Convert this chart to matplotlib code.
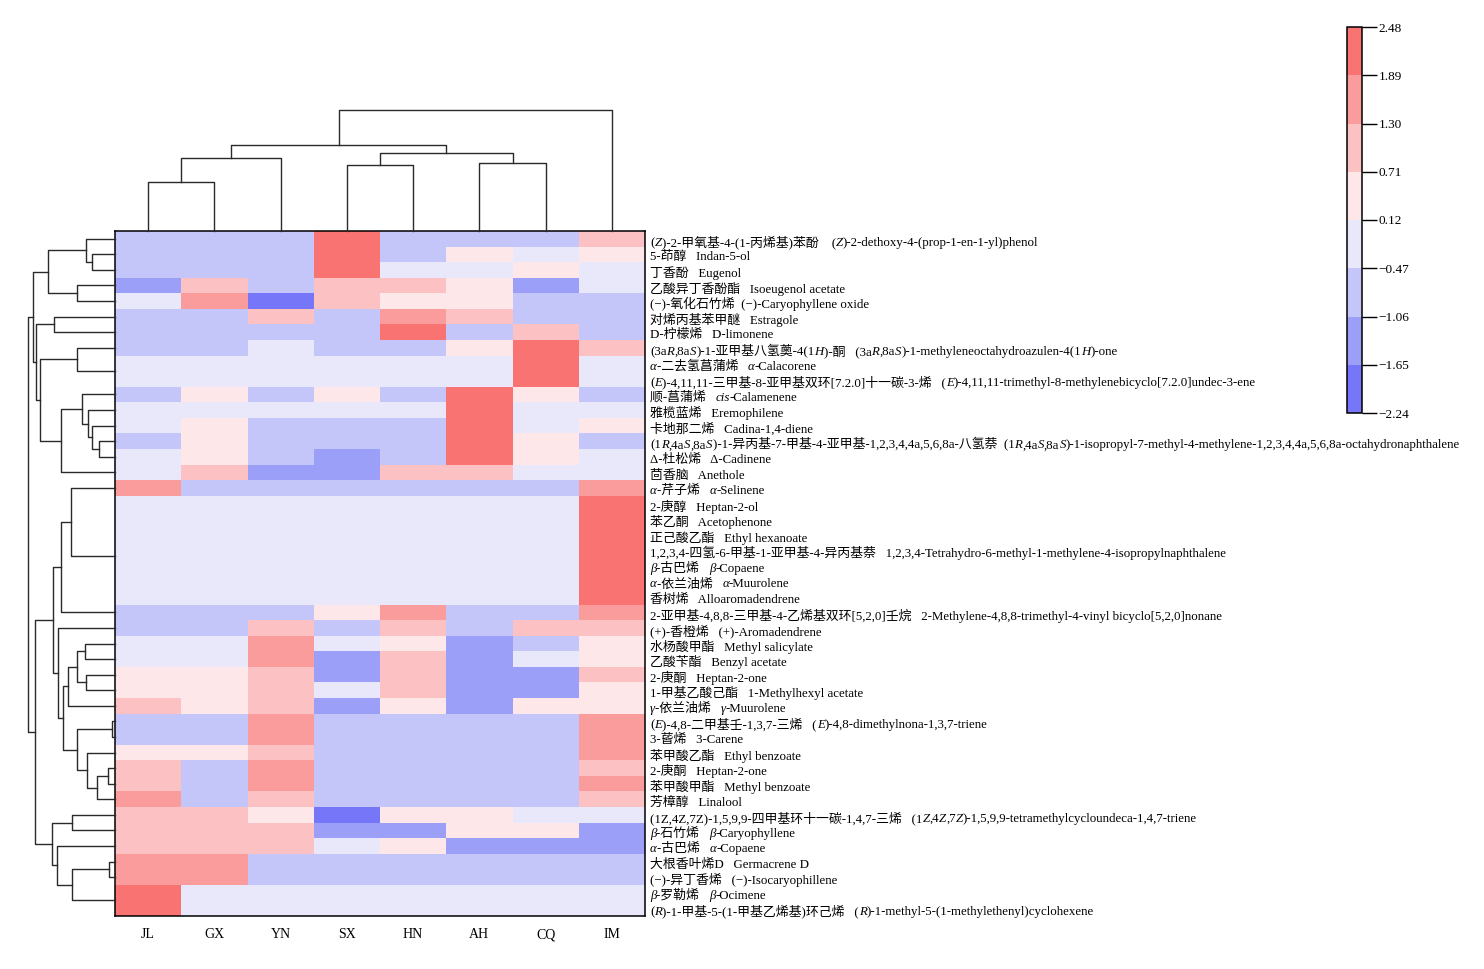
import numpy as np
import matplotlib.pyplot as plt
from matplotlib.colors import ListedColormap, BoundaryNorm
from matplotlib.cm import ScalarMappable
from matplotlib.offsetbox import TextArea, HPacker, AnnotationBbox

FAM = ['Liberation Serif', 'Noto Sans CJK SC']
plt.rcParams['font.family'] = FAM

samples = ['JL', 'GX', 'YN', 'SX', 'HN', 'AH', 'CQ', 'IM']

# row labels, *...* = italic
compounds = [
    "(*Z*)-2-甲氧基-4-(1-丙烯基)苯酚    (*Z*)-2-dethoxy-4-(prop-1-en-1-yl)phenol",
    "5-茚醇   Indan-5-ol",
    "丁香酚   Eugenol",
    "乙酸异丁香酚酯   Isoeugenol acetate",
    "(−)-氧化石竹烯  (−)-Caryophyllene oxide",
    "对烯丙基苯甲醚   Estragole",
    "D-柠檬烯   D-limonene",
    "(3a*R*,8a*S*)-1-亚甲基八氢薁-4(1*H*)-酮   (3a*R*,8a*S*)-1-methyleneoctahydroazulen-4(1*H*)-one",
    "*α*-二去氢菖蒲烯   *α*-Calacorene",
    "(*E*)-4,11,11-三甲基-8-亚甲基双环[7.2.0]十一碳-3-烯   (*E*)-4,11,11-trimethyl-8-methylenebicyclo[7.2.0]undec-3-ene",
    "顺-菖蒲烯   *cis*-Calamenene",
    "雅榄蓝烯   Eremophilene",
    "卡地那二烯   Cadina-1,4-diene",
    "(1*R*,4a*S*,8a*S*)-1-异丙基-7-甲基-4-亚甲基-1,2,3,4,4a,5,6,8a-八氢萘  (1*R*,4a*S*,8a*S*)-1-isopropyl-7-methyl-4-methylene-1,2,3,4,4a,5,6,8a-octahydronaphthalene",
    "Δ-杜松烯   Δ-Cadinene",
    "茴香脑   Anethole",
    "*α*-芹子烯   *α*-Selinene",
    "2-庚醇   Heptan-2-ol",
    "苯乙酮   Acetophenone",
    "正己酸乙酯   Ethyl hexanoate",
    "1,2,3,4-四氢-6-甲基-1-亚甲基-4-异丙基萘   1,2,3,4-Tetrahydro-6-methyl-1-methylene-4-isopropylnaphthalene",
    "*β*-古巴烯   *β*-Copaene",
    "*α*-依兰油烯   *α*-Muurolene",
    "香树烯   Alloaromadendrene",
    "2-亚甲基-4,8,8-三甲基-4-乙烯基双环[5,2,0]壬烷   2-Methylene-4,8,8-trimethyl-4-vinyl bicyclo[5,2,0]nonane",
    "(+)-香橙烯   (+)-Aromadendrene",
    "水杨酸甲酯   Methyl salicylate",
    "乙酸苄酯   Benzyl acetate",
    "2-庚酮   Heptan-2-one",
    "1-甲基乙酸己酯   1-Methylhexyl acetate",
    "*γ*-依兰油烯   *γ*-Muurolene",
    "(*E*)-4,8-二甲基壬-1,3,7-三烯   (*E*)-4,8-dimethylnona-1,3,7-triene",
    "3-蒈烯   3-Carene",
    "苯甲酸乙酯   Ethyl benzoate",
    "2-庚酮   Heptan-2-one",
    "苯甲酸甲酯   Methyl benzoate",
    "芳樟醇   Linalool",
    "(1Z,4Z,7Z)-1,5,9,9-四甲基环十一碳-1,4,7-三烯   (1*Z*,4*Z*,7*Z*)-1,5,9,9-tetramethylcycloundeca-1,4,7-triene",
    "*β*-石竹烯   *β*-Caryophyllene",
    "*α*-古巴烯   *α*-Copaene",
    "大根香叶烯D   Germacrene D",
    "(−)-异丁香烯   (−)-Isocaryophillene",
    "*β*-罗勒烯   *β*-Ocimene",
    "(*R*)-1-甲基-5-(1-甲基乙烯基)环己烯   (*R*)-1-methyl-5-(1-methylethenyl)cyclohexene",
]

# z-scores, columns JL GX YN SX HN AH CQ IM
zscore = [
    [-0.63, -0.63, -0.63, 2.32, -0.60, -0.56, -0.55, 1.08],
    [-0.71, -0.71, -0.71, 2.35, -0.65, 0.25, -0.28, 0.46],
    [-0.68, -0.68, -0.68, 2.38, -0.32, -0.26, 0.21, -0.30],
    [-1.52, 0.92, -0.88, 1.05, 0.98, 0.35, -1.49, -0.41],
    [-0.12, 1.62, -2.24, 0.86, 0.52, 0.47, -0.61, -0.50],
    [-0.72, -0.72, 0.93, -0.70, 1.58, 1.12, -0.80, -0.69],
    [-0.58, -0.58, -0.58, -0.58, 2.21, -0.55, 0.81, -0.55],
    [-0.64, -0.64, -0.41, -0.62, -0.63, 0.28, 2.05, 0.95],
    [-0.35, -0.35, -0.35, -0.35, -0.35, -0.35, 2.47, -0.35],
    [-0.35, -0.35, -0.35, -0.35, -0.35, -0.35, 2.47, -0.35],
    [-0.69, 0.25, -0.72, 0.30, -0.70, 2.27, 0.19, -0.63],
    [-0.35, -0.35, -0.35, -0.35, -0.35, 2.47, -0.35, -0.35],
    [-0.45, 0.18, -0.62, -0.60, -0.62, 2.31, -0.40, 0.20],
    [-0.50, 0.15, -0.55, -0.55, -0.52, 2.35, 0.14, -0.52],
    [-0.30, 0.32, -0.88, -1.12, -0.85, 2.20, 0.33, -0.20],
    [-0.12, 1.02, -1.40, -1.35, 0.90, 0.95, -0.02, 0.02],
    [1.62, -0.54, -0.54, -0.54, -0.54, -0.54, -0.54, 1.62],
    [-0.35, -0.35, -0.35, -0.35, -0.35, -0.35, -0.35, 2.47],
    [-0.35, -0.35, -0.35, -0.35, -0.35, -0.35, -0.35, 2.47],
    [-0.35, -0.35, -0.35, -0.35, -0.35, -0.35, -0.35, 2.47],
    [-0.35, -0.35, -0.35, -0.35, -0.35, -0.35, -0.35, 2.47],
    [-0.35, -0.35, -0.35, -0.35, -0.35, -0.35, -0.35, 2.47],
    [-0.35, -0.35, -0.35, -0.35, -0.35, -0.35, -0.35, 2.47],
    [-0.35, -0.35, -0.35, -0.35, -0.35, -0.35, -0.35, 2.47],
    [-0.70, -0.70, -0.70, 0.20, 1.55, -0.70, -0.70, 1.75],
    [-0.98, -0.98, 0.90, -0.92, 0.85, -0.98, 1.05, 1.06],
    [-0.30, -0.30, 1.80, -0.20, 0.35, -1.40, -0.58, 0.48],
    [-0.05, -0.05, 1.60, -1.30, 1.05, -1.38, -0.15, 0.28],
    [0.30, 0.30, 1.00, -1.45, 0.95, -1.45, -1.50, 0.85],
    [0.32, 0.32, 1.10, -0.28, 0.98, -1.50, -1.45, 0.52],
    [1.05, 0.50, 1.02, -1.48, 0.42, -1.50, 0.28, 0.45],
    [-0.54, -0.54, 1.62, -0.54, -0.54, -0.54, -0.54, 1.62],
    [-0.54, -0.54, 1.62, -0.54, -0.54, -0.54, -0.54, 1.62],
    [0.40, 0.42, 1.20, -0.80, -0.80, -0.80, -0.80, 1.35],
    [1.00, -0.72, 1.55, -0.72, -0.72, -0.72, -0.72, 1.28],
    [0.95, -0.70, 1.45, -0.70, -0.70, -0.70, -0.70, 1.55],
    [1.52, -0.72, 1.20, -0.72, -0.72, -0.72, -0.72, 1.03],
    [0.95, 0.92, 0.30, -2.20, 0.45, 0.40, -0.35, -0.40],
    [0.90, 0.88, 0.85, -1.20, -1.22, 0.42, 0.45, -1.15],
    [1.00, 0.98, 1.02, -0.10, 0.40, -1.10, -1.12, -1.15],
    [1.62, 1.62, -0.54, -0.54, -0.54, -0.54, -0.54, -0.54],
    [1.62, 1.62, -0.54, -0.54, -0.54, -0.54, -0.54, -0.54],
    [2.47, -0.35, -0.35, -0.35, -0.35, -0.35, -0.35, -0.35],
    [2.47, -0.35, -0.35, -0.35, -0.35, -0.35, -0.35, -0.35],
]

# clustering trees: (left, right, merge height), ints are leaf indices
col_tree = ((((0, 1, 49), 2, 72.7), ((3, 4, 65.7), (5, 6, 68.3), 78.3), 85.7), 7, 121)

row_top = (((0, (1, 2, 23.3), 29), (3, 4, 38.3), 67.3),
           ((5, 6, 61),
            ((7, (8, 9, 0), 38.3),
             ((10, (11, (12, (13, 14, 15.7), 23.3), 26.7), 33.3), 15, 54), 75), 79), 81.7)
row_bot = (((16, (((17, 18, 0), (19, 20, 0), 0), ((21, 22, 0), 23, 0), 0), 44), 24, 54.3),
           (25, ((((26, 27, 30), (28, 29, 29), 38.3), 30, 47.3),
                 ((31, 32, 3.3), (33, ((34, 35, 6.7), 36, 18.3), 28.3), 38.3), 51.7), 56.7), 61.7)
row_bot = (row_bot, ((37, 38, 43.3), (39, ((40, 41, 6), (42, 43, 0), 43.3), 58.3), 63.3), 80)
row_tree = (row_top, row_bot, 87.3)

bounds = [-2.24, -1.65, -1.06, -0.47, 0.12, 0.71, 1.30, 1.89, 2.48]
colors = ['#7676f8', '#9c9ff8', '#c4c6f9', '#e8e8fa', '#fde7e8', '#fcc2c3', '#fa9c9c', '#fa7373']
cmap = ListedColormap(colors)
norm = BoundaryNorm(bounds, cmap.N)

W, H = 1484, 969
fig = plt.figure(figsize=(W / 100, H / 100), dpi=100)


def box(l, t, r, b):
    return [l / W, 1 - b / H, (r - l) / W, (b - t) / H]


data = np.array(zscore)
nr, nc = data.shape

ax = fig.add_axes(box(115, 231, 645, 916))
ax.pcolormesh(np.arange(nc + 1), np.arange(nr + 1), data, cmap=cmap, norm=norm)
ax.set_xlim(0, nc)
ax.set_ylim(nr, 0)
ax.set_yticks([])
ax.set_xticks(np.arange(nc) + 0.5)
ax.set_xticklabels(samples, fontsize=10)
ax.tick_params(axis='x', length=0, pad=9)
for s in ax.spines.values():
    s.set_linewidth(1.1)


def draw_tree(a, node, vertical):
    if isinstance(node, int):
        return node + 0.5, 0.0
    left, right, h = node
    pa, ha = draw_tree(a, left, vertical)
    pb, hb = draw_tree(a, right, vertical)
    if h > 0:
        p = [pa, pa, pb, pb]
        d = [ha, h, h, hb]
        if vertical:
            a.plot(p, d, color='#2a2a2a', lw=1.0, clip_on=False)
        else:
            a.plot(d, p, color='#2a2a2a', lw=1.0, clip_on=False)
    return (pa + pb) / 2, h


axc = fig.add_axes(box(115, 105, 645, 231))
draw_tree(axc, col_tree, True)
axc.set_xlim(0, nc)
axc.set_ylim(0, 126)
axc.axis('off')

axr = fig.add_axes(box(25, 231, 115, 916))
draw_tree(axr, row_tree, False)
axr.set_xlim(90, 0)
axr.set_ylim(nr, 0)
axr.axis('off')

# row labels with italic pieces
for i, lab in enumerate(compounds):
    parts = lab.split('*')
    kids = []
    for k, p in enumerate(parts):
        if p == '':
            continue
        kids.append(TextArea(p, textprops=dict(family=FAM, size=9.3,
                                               style='italic' if k % 2 else 'normal')))
    pk = HPacker(children=kids, align='baseline', pad=0, sep=0)
    ab = AnnotationBbox(pk, (1 + 5 / 530, i + 0.7), xycoords=('axes fraction', 'data'),
                        box_alignment=(0, 0.5), frameon=False, pad=0)
    ax.add_artist(ab)

cax = fig.add_axes(box(1347, 27, 1362, 413))
cb = fig.colorbar(ScalarMappable(norm=norm, cmap=cmap), cax=cax, ticks=bounds,
                  spacing='proportional')
cb.ax.set_yticklabels(['−2.24', '−1.65', '−1.06', '−0.47', '0.12', '0.71', '1.30', '1.89', '2.48'])
cb.ax.tick_params(length=11, width=1.0, labelsize=9.5, pad=1)
cb.outline.set_linewidth(1.1)

fig.savefig('out.png', dpi=100)
